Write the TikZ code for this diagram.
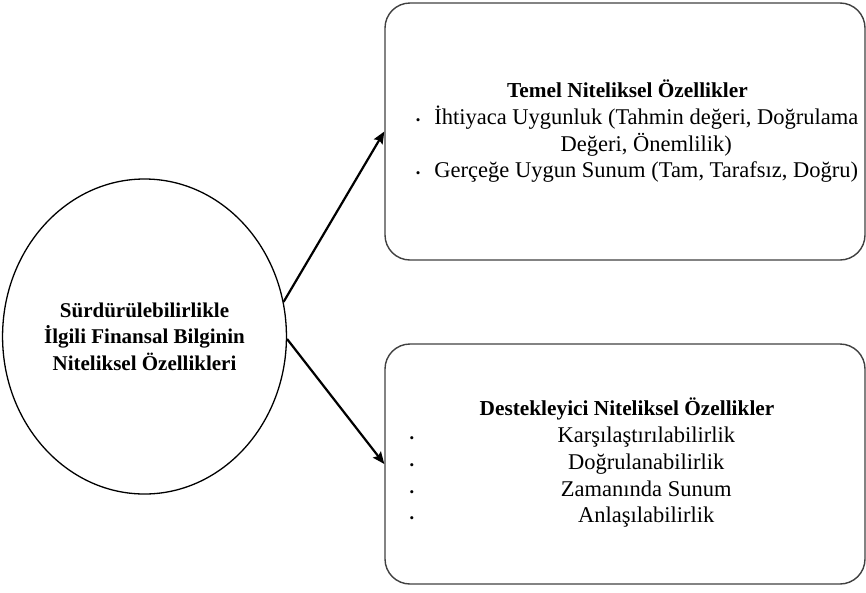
\documentclass[tikz,border=0pt]{standalone}
\usepackage{fontspec}
\setmainfont{Liberation Serif}
\usepackage{array}
\usetikzlibrary{shapes.geometric,arrows.meta}

\newcommand{\madde}{{\fontsize{13}{13}\selectfont\textbullet}}
\newcommand{\baslik}[1]{{\fontsize{21.3}{26.7}\selectfont\textbf{#1}}}

\begin{document}
\begin{tikzpicture}[x=1pt,y=-1pt,
    kutu/.style={draw=black!75,line width=1.4pt,rectangle,rounded corners=25pt,minimum width=480pt},
    metin/.style={inner sep=0pt,font=\fontsize{22.5}{26.7}\selectfont},
    ok/.style={line width=2.2pt,-{Stealth[length=12pt,width=10pt,inset=2pt]}}]
    \useasboundingbox (0,0) rectangle (866,592);

    \node[draw,ellipse,line width=1.3pt,minimum width=271pt,minimum height=315pt,inner sep=0pt,align=center,
          font=\fontsize{21}{26.5}\selectfont\bfseries] (nitelik) at (144.5,336.5)
          {Sürdürülebilirlikle\\İlgili Finansal Bilginin\\Niteliksel Özellikleri};

    \node[kutu,minimum height=257pt] (temel) at (625,131.5) {};
    \node[kutu,minimum height=240pt] (destek) at (625,464) {};

    \node[metin] (temelmetin) at ([xshift=12pt,yshift=-1pt]temel.center) {%
        \begin{tabular}{@{}c@{\hspace{14pt}}c@{}}
        \multicolumn{2}{@{}c@{\hspace{19pt}}}{\baslik{Temel Niteliksel Özellikler}}\\
        \madde & İhtiyaca Uygunluk (Tahmin değeri, Doğrulama\\
               & Değeri, Önemlilik)\\
        \madde & Gerçeğe Uygun Sunum (Tam, Tarafsız, Doğru)
        \end{tabular}};

    \node[metin] (destekmetin) at ([xshift=14pt]destek.center) {%
        \begin{tabular}{@{}c@{\hspace{10pt}}>{\centering\arraybackslash}p{444pt}@{}}
        \multicolumn{2}{@{}c@{\hspace{24pt}}}{\baslik{Destekleyici Niteliksel Özellikler}}\\
        \madde & Karşılaştırılabilirlik\\
        \madde & Doğrulanabilirlik\\
        \madde & Zamanında Sunum\\
        \madde & Anlaşılabilirlik
        \end{tabular}};

    \draw[ok] (nitelik.14) -- (temel.west);
    \draw[ok] (nitelik.-1) -- (destek.west);
\end{tikzpicture}
\end{document}
